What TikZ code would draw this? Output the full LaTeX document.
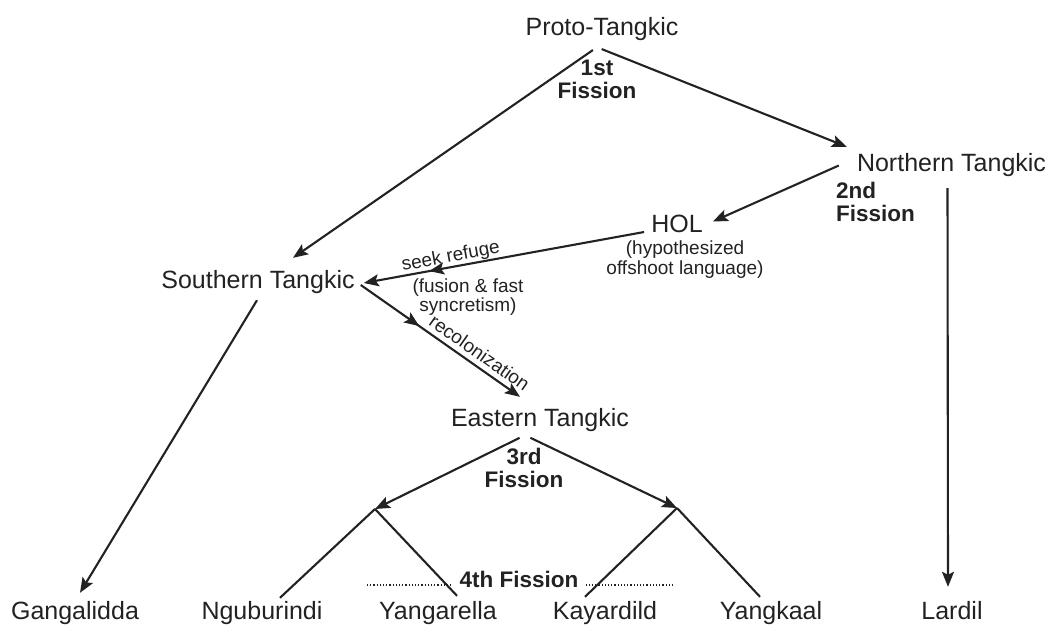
\documentclass[tikz,border=0pt]{standalone}
\usepackage{fontspec}
\setmainfont{Liberation Sans}
\usetikzlibrary{arrows.meta,decorations.markings}
\definecolor{ink}{HTML}{222222}
\begin{document}
\begin{tikzpicture}[x=1pt,y=-1pt,
  lang/.style={font=\fontsize{25}{28}\selectfont, text=ink, inner sep=0pt, text height=18pt, text depth=5pt, anchor=base},
  fission/.style={font=\bfseries\fontsize{22.5}{23.5}\selectfont, text=ink, inner sep=0pt, align=center},
  note/.style={font=\fontsize{19}{20}\selectfont, text=ink, inner sep=0pt, align=center},
  link/.style={color=ink, line width=2.1pt},
  tipstyle/.tip={Stealth[length=15pt,width=12pt,inset=3pt]},
  arr/.style={link, -tipstyle},
  midarr/.style={postaction={decorate, decoration={markings, mark=at position #1 with {\arrow{tipstyle}}}}},
  dotline/.style={color=ink, line width=1.2pt, dotted}
]
\useasboundingbox (0,0) rectangle (1051,625);

% language nodes
\node[lang] (proto) at (602,35) {Proto-Tangkic};
\node[lang] (northern) at (951.5,171) {Northern Tangkic};
\node[lang] (hol) at (677,232) {HOL};
\node[lang] (southern) at (258,288) {Southern Tangkic};
\node[lang] (eastern) at (540,426) {Eastern Tangkic};
\node[lang] (gang) at (75,619) {Gangalidda};
\node[lang] (ngu) at (262,619) {Nguburindi};
\node[lang] (yanga) at (438,619) {Yangarella};
\node[lang] (kay) at (605,619) {Kayardild};
\node[lang] (yangk) at (771,619) {Yangkaal};
\node[lang] (lardil) at (952,619) {Lardil};

% fission labels
\node[fission] (f1lab) at (597,79.5) {1st\\Fission};
\node[fission, anchor=west, align=left] (f2lab) at (836,202) {2nd\\Fission};
\node[fission] (f3lab) at (524,468) {3rd\\Fission};
\node[fission, anchor=base, inner xsep=7pt] (f4lab) at (519,587) {4th Fission};

% notes
\node[note, anchor=north] (holnote) at (685,241) {(hypothesized\\offshoot language)};
\node[note, anchor=north, font=\fontsize{19}{16.5}\selectfont] (fusion) at (468,279) {(fusion \& fast\\syncretism)};

% branching points
\coordinate (p1) at ([shift={(-5,7)}]proto.south);
\coordinate (p3) at ([shift={(-15,4)}]eastern.south);
\coordinate (fk1) at (375,509);
\coordinate (fk2) at (677,508);
\coordinate (d1) at (367,585);
\coordinate (d2) at (675,585);

% first fission
\draw[arr, shorten <=5pt] (p1) -- ([shift={(35,-12)}]southern.north);
\draw[arr, shorten <=5pt] (p1) -- ([shift={(-10,-6)}]northern.north west);

% second fission
\draw[arr] ([shift={(-18,1)}]northern.west) -- ([shift={(10,-4)}]hol.east);
\draw[arr] ([shift={(-4,12)}]northern.south) -- ([shift={(-4,-14)}]lardil.north);

% HOL to Southern
\draw[arr, midarr=0.767] ([shift={(-7,6.5)}]hol.west) -- ([shift={(9,1.5)}]southern.east)
  node[note, sloped, above, pos=0.683] (seek) {seek refuge};

% Southern to Eastern
\draw[arr, midarr=0.367] ([shift={(6,3.5)}]southern.east) -- ([shift={(-20,-11)}]eastern.north)
  node[note, sloped, above, pos=0.70, inner sep=5pt] (recol) {recolonization};

% Southern to Gangalidda
\draw[arr] ([shift={(-1,7)}]southern.south) -- ([shift={(5,-8)}]gang.north);

% third fission
\draw[arr, shorten <=6pt] (p3) -- (fk1);
\draw[arr, shorten <=6pt] (p3) -- (fk2);

% fourth fission
\draw[dotline] (d1) -- (d1 -| f4lab.west);
\draw[dotline] (d2 -| f4lab.east) -- (d2);
\draw[link] (fk1) -- ([shift={(18,-3)}]ngu.north);
\draw[link] (fk1) -- ([shift={(19,-5)}]yanga.north);
\draw[link] (fk2) -- ([shift={(-20,-4)}]kay.north);
\draw[link] (fk2) -- ([shift={(-11,-4)}]yangk.north);
\end{tikzpicture}
\end{document}
